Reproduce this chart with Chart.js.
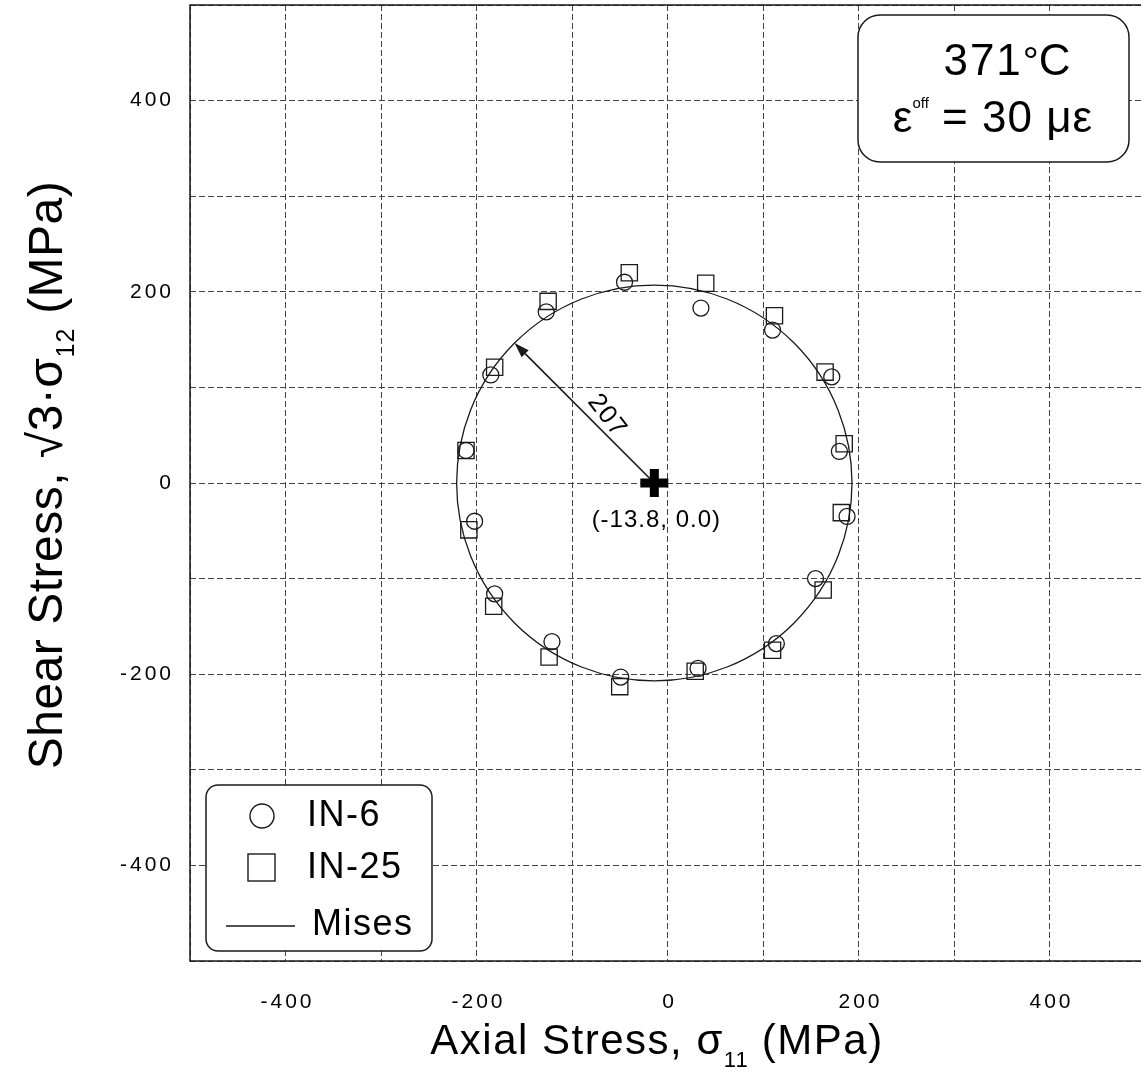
<!DOCTYPE html>
<html>
<head>
<meta charset="utf-8">
<script src="https://cdn.jsdelivr.net/npm/chart.js@4.4.1/dist/chart.umd.min.js"></script>
<style>
  html, body { margin: 0; padding: 0; background: #fff; overflow: hidden; }
  #wrap { position: relative; width: 1150px; height: 1076px; }
</style>
</head>
<body>
<div id="wrap"><canvas id="yieldChart"></canvas></div>
<script>
// probe IN-6 (circles)
const in6X = [-45, -127, -185, -211, -202, -181, -121, -49, 32, 114, 155, 188, 180, 172, 110, 35];
const in6Y = [210, 179, 113, 34, -40, -116, -166, -203, -194, -168, -100, -35, 33, 111, 160, 183];
// probe IN-25 (squares)
const in25X = [-40, -125, -181, -211, -208, -182, -124, -50, 29, 110, 163, 182, 185, 165, 112, 40];
const in25Y = [220, 190, 121, 34, -49, -129, -182, -213, -197, -175, -112, -31, 41, 116, 175, 209];
// fitted Mises locus
const misesCenter = [-13.8, 0.0];
const misesRadius = 207;
const xTicks = [-400, -200, 0, 200, 400];
const yTicks = [-400, -200, 0, 200, 400];

const FONT = "'Liberation Sans', Arial, sans-serif";
const INK = '#1a1a1a';

const toPoints = (xs, ys) => xs.map((x, i) => ({ x, y: ys[i] }));

function runsWidth(ctx, runs) {
  let w = 0;
  runs.forEach(r => {
    ctx.font = `${r.size}px ${FONT}`;
    ctx.letterSpacing = (r.ls || 0) + 'px';
    w += ctx.measureText(r.t).width;
  });
  return w;
}

function drawRuns(ctx, runs, x, y) {
  ctx.textAlign = 'left';
  ctx.textBaseline = 'alphabetic';
  runs.forEach(r => {
    ctx.font = `${r.size}px ${FONT}`;
    ctx.letterSpacing = (r.ls || 0) + 'px';
    ctx.fillText(r.t, x, y + (r.dy || 0));
    x += ctx.measureText(r.t).width;
  });
}

function roundBox(ctx, x, y, w, h, r) {
  ctx.beginPath();
  ctx.roundRect(x, y, w, h, r);
  ctx.fillStyle = '#fff';
  ctx.fill();
  ctx.lineWidth = 1.5;
  ctx.strokeStyle = INK;
  ctx.stroke();
}

const overlay = {
  id: 'overlay',
  beforeDatasetsDraw(chart) {
    const { ctx, chartArea: a, scales: { x: xs, y: ys } } = chart;
    ctx.save();
    // frame
    ctx.strokeStyle = INK;
    ctx.lineWidth = 1.5;
    ctx.beginPath();
    ctx.moveTo(a.right + 2, a.top);
    ctx.lineTo(a.left, a.top);
    ctx.lineTo(a.left, a.bottom);
    ctx.lineTo(a.right + 2, a.bottom);
    ctx.stroke();

    // Mises circle
    const cx = xs.getPixelForValue(misesCenter[0]);
    const cy = ys.getPixelForValue(misesCenter[1]);
    const rx = xs.getPixelForValue(misesCenter[0] + misesRadius) - cx;
    const ry = cy - ys.getPixelForValue(misesCenter[1] + misesRadius);
    ctx.beginPath();
    ctx.ellipse(cx, cy, rx, ry, 0, 0, Math.PI * 2);
    ctx.lineWidth = 1.3;
    ctx.strokeStyle = INK;
    ctx.stroke();

    // radius arrow at 135 degrees
    const ang = Math.PI * 3 / 4;
    const tx = xs.getPixelForValue(misesCenter[0] + misesRadius * Math.cos(ang));
    const ty = ys.getPixelForValue(misesCenter[1] + misesRadius * Math.sin(ang));
    const dx = tx - cx, dy = ty - cy, len = Math.hypot(dx, dy);
    const ux = dx / len, uy = dy / len;
    const head = 15, half = 5;
    ctx.beginPath();
    ctx.moveTo(cx, cy);
    ctx.lineTo(tx - ux * head, ty - uy * head);
    ctx.lineWidth = 1.6;
    ctx.stroke();
    ctx.beginPath();
    ctx.moveTo(tx, ty);
    ctx.lineTo(tx - ux * head - uy * half, ty - uy * head + ux * half);
    ctx.lineTo(tx - ux * head + uy * half, ty - uy * head - ux * half);
    ctx.closePath();
    ctx.fillStyle = INK;
    ctx.fill();

    // radius value along the arrow
    const lx = cx + dx * 0.41 - uy * 14;
    const ly = cy + dy * 0.41 + ux * 14;
    ctx.translate(lx, ly);
    ctx.rotate(Math.PI * 0.29);
    ctx.font = `26px ${FONT}`;
    ctx.letterSpacing = '1px';
    ctx.textAlign = 'center';
    ctx.textBaseline = 'middle';
    ctx.fillStyle = '#000';
    ctx.fillText(String(misesRadius), 0, 0);
    ctx.restore();
  },
  afterDraw(chart) {
    const { ctx, chartArea: a, scales: { x: xs, y: ys } } = chart;
    ctx.save();
    ctx.fillStyle = '#000';

    // centre coordinates label
    const cx = xs.getPixelForValue(misesCenter[0]);
    const cy = ys.getPixelForValue(misesCenter[1]);
    ctx.font = `24px ${FONT}`;
    ctx.letterSpacing = '1px';
    ctx.textAlign = 'center';
    ctx.textBaseline = 'middle';
    ctx.fillText(`(${misesCenter[0].toFixed(1)}, ${misesCenter[1].toFixed(1)})`, cx + 2, cy + 37);

    // tick labels
    ctx.font = `21px ${FONT}`;
    ctx.letterSpacing = '3px';
    ctx.textAlign = 'right';
    yTicks.forEach(v => ctx.fillText(String(v), a.left - 16, ys.getPixelForValue(v)));
    ctx.textAlign = 'center';
    xTicks.forEach(v => ctx.fillText(String(v), xs.getPixelForValue(v) + 2, a.bottom + 41));

    // axis titles
    const xRuns = [
      { t: 'Axial Stress, σ', size: 42, ls: 1.5 },
      { t: '11', size: 22, dy: 13, ls: 1 },
      { t: ' (MPa)', size: 42, ls: 1.5 }
    ];
    drawRuns(ctx, xRuns, 657 - runsWidth(ctx, xRuns) / 2, a.bottom + 93);

    const yRuns = [
      { t: 'Shear Stress, √3·σ', size: 48, ls: 0.5 },
      { t: '12', size: 25, dy: 12, ls: 1 },
      { t: ' (MPa)', size: 48, ls: 0.5 }
    ];
    ctx.save();
    ctx.translate(62, (a.top + a.bottom) / 2 - 8);
    ctx.rotate(-Math.PI / 2);
    drawRuns(ctx, yRuns, -runsWidth(ctx, yRuns) / 2, 0);
    ctx.restore();

    // condition box
    const bx = a.right - 287, by = a.top + 10, bw = 271, bh = 147;
    roundBox(ctx, bx, by, bw, bh, 22);
    ctx.fillStyle = '#000';
    const l1 = [{ t: '371', size: 44, ls: 2 }, { t: '°', size: 40, ls: 0 }, { t: 'C', size: 44 }];
    drawRuns(ctx, l1, bx + 149 - runsWidth(ctx, l1) / 2, by + 60);
    const l2 = [
      { t: 'ε', size: 44 },
      { t: 'off', size: 15, dy: -24 },
      { t: ' = 30 με', size: 44, ls: 1 }
    ];
    drawRuns(ctx, l2, bx + 135 - runsWidth(ctx, l2) / 2, by + 117);

    // legend
    const gx = a.left + 16, gy = a.bottom - 176, gw = 226, gh = 166;
    roundBox(ctx, gx, gy, gw, gh, 12);
    ctx.strokeStyle = INK;
    ctx.lineWidth = 1.4;
    ctx.beginPath();
    ctx.arc(gx + 56, gy + 31, 12, 0, Math.PI * 2);
    ctx.stroke();
    ctx.strokeRect(gx + 42, gy + 69, 27, 27);
    ctx.beginPath();
    ctx.moveTo(gx + 20, gy + 141);
    ctx.lineTo(gx + 89, gy + 141);
    ctx.stroke();
    ctx.fillStyle = '#000';
    ctx.font = `36px ${FONT}`;
    ctx.letterSpacing = '1.5px';
    ctx.textAlign = 'left';
    ctx.textBaseline = 'middle';
    ctx.fillText('IN-6', gx + 101, gy + 31);
    ctx.fillText('IN-25', gx + 101, gy + 83);
    ctx.fillText('Mises', gx + 106, gy + 140);
    ctx.restore();
  }
};

const axis = (extra) => Object.assign({
  type: 'linear',
  min: -500,
  max: 500,
  ticks: { stepSize: 100, display: false },
  grid: { color: '#444', lineWidth: 1, drawTicks: false, tickLength: 0 },
  border: { display: false, dash: [6, 3] }
}, extra);

new Chart(document.getElementById('yieldChart'), {
  type: 'scatter',
  data: {
    datasets: [
      {
        label: 'IN-6',
        data: toPoints(in6X, in6Y),
        pointStyle: 'circle',
        pointRadius: 8,
        borderColor: INK,
        borderWidth: 1.3,
        backgroundColor: 'transparent'
      },
      {
        label: 'IN-25',
        data: toPoints(in25X, in25Y),
        pointStyle: 'rect',
        pointRadius: 11.5,
        borderColor: INK,
        borderWidth: 1.3,
        backgroundColor: 'transparent'
      },
      {
        label: 'centre',
        data: [{ x: misesCenter[0], y: misesCenter[1] }],
        pointStyle: 'cross',
        pointRadius: 14,
        borderColor: '#000',
        borderWidth: 9
      }
    ]
  },
  options: {
    responsive: true,
    maintainAspectRatio: false,
    animation: false,
    events: [],
    layout: { autoPadding: false, padding: { top: 5, right: 5, left: 0, bottom: 0 } },
    plugins: { legend: { display: false }, tooltip: { enabled: false } },
    scales: {
      x: axis({ afterFit: s => { s.height = 115; } }),
      y: axis({ afterFit: s => { s.width = 190; } })
    }
  },
  plugins: [overlay]
});
</script>
</body>
</html>
